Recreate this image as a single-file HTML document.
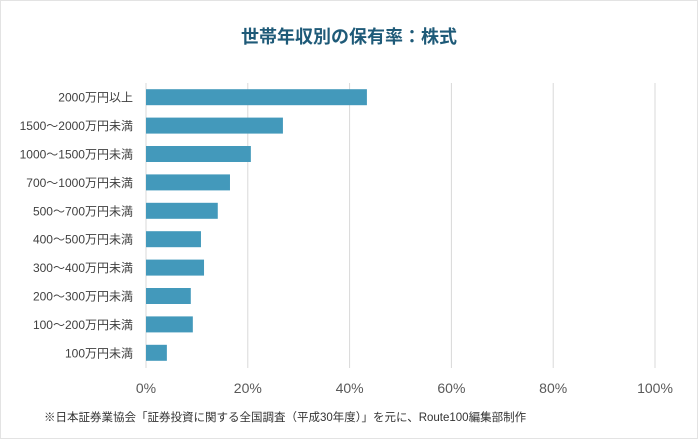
<!DOCTYPE html>
<html><head><meta charset="utf-8"><style>
body{margin:0;background:#fff;}
svg text{font-family:"Liberation Sans","Noto Sans CJK JP",sans-serif;}
</style></head><body>
<svg width="698" height="439" xmlns="http://www.w3.org/2000/svg">
<rect x="0.5" y="0.5" width="697" height="438" fill="#fff" stroke="#e3e3e3"/>
<text x="349" y="43" text-anchor="middle" font-size="18" font-weight="bold" fill="#1e5a78">世帯年収別の保有率：株式</text>
<g id="grid"></g><g id="bars"></g><g id="ylabels"></g><g id="xticks"></g>
<text x="44" y="421" font-size="11.5" fill="#333">※日本証券業協会「証券投資に関する全国調査（平成30年度）」を元に、Route100編集部制作</text>
<script>
const categories=["2000万円以上","1500～2000万円未満","1000～1500万円未満","700～1000万円未満","500～700万円未満","400～500万円未満","300～400万円未満","200～300万円未満","100～200万円未満","100万円未満"];
const values=[43.4,26.9,20.6,16.5,14.1,10.8,11.4,8.8,9.2,4.1];
const tickValues=[0,20,40,60,80,100];
const tickLabels=["0%","20%","40%","60%","80%","100%"];
const x0=146,x1=655,plotTop=83,plotBottom=367;
const xs=v=>x0+(x1-x0)*v/100;
const pitch=(plotBottom-plotTop)/categories.length;
const yc=i=>plotTop+pitch*(i+0.5);
const NS="http://www.w3.org/2000/svg";
function mk(t,a,p){const e=document.createElementNS(NS,t);for(const k in a)e.setAttribute(k,a[k]);p.appendChild(e);return e;}
const g=document.getElementById('grid'),b=document.getElementById('bars'),yl=document.getElementById('ylabels'),xt=document.getElementById('xticks');
tickValues.forEach((v,i)=>{
 const l=mk('line',{x1:xs(v),x2:xs(v),y1:plotTop,y2:plotBottom+1,stroke:'#d9d9d9','stroke-width':1},g);
 
 
 const t=mk('text',{x:xs(v),y:393,'text-anchor':'middle','font-size':14,fill:'#595959'},xt);
 t.textContent=tickLabels[i];
 
 
});
categories.forEach((c,i)=>{
 const r=mk('rect',{x:x0,y:yc(i)-8,width:xs(values[i])-x0,height:16,fill:'#4399bb'},b);
 
 
 const t=mk('text',{x:133,y:yc(i)+4.5,'text-anchor':'end','font-size':12,fill:'#404040'},yl);
 t.textContent=c;
 
 
});
</script>
</svg>
</body></html>
